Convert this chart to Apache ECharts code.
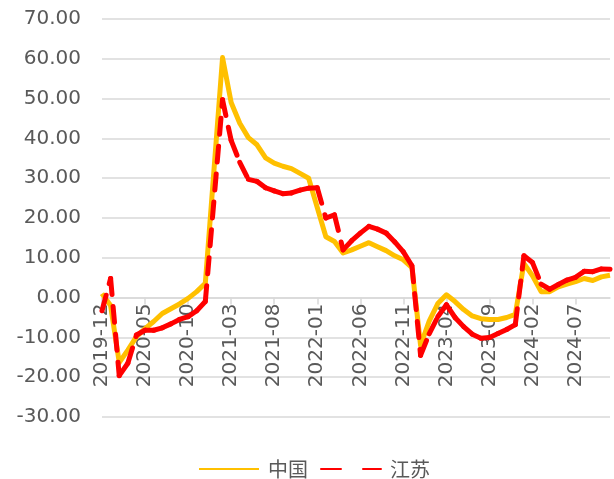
<!DOCTYPE html>
<html>
<head>
<meta charset="utf-8">
<script src="https://cdn.jsdelivr.net/npm/echarts@6/dist/echarts.min.js"></script>
<style>
  html, body { margin: 0; padding: 0; background: #fff; overflow: hidden; }
  #chart { width: 614px; height: 479px; }
</style>
</head>
<body>
<div id="chart"></div>
<script>
// 月份（1月数据缺失的地方用 null）
const months = [
  '2019-12',
  '2020-01', '2020-02', '2020-03', '2020-04', '2020-05', '2020-06',
  '2020-07', '2020-08', '2020-09', '2020-10', '2020-11', '2020-12',
  '2021-01', '2021-02', '2021-03', '2021-04', '2021-05', '2021-06',
  '2021-07', '2021-08', '2021-09', '2021-10', '2021-11', '2021-12',
  '2022-01', '2022-02', '2022-03', '2022-04', '2022-05', '2022-06',
  '2022-07', '2022-08', '2022-09', '2022-10', '2022-11', '2022-12',
  '2023-01', '2023-02', '2023-03', '2023-04', '2023-05', '2023-06',
  '2023-07', '2023-08', '2023-09', '2023-10', '2023-11', '2023-12',
  '2024-01', '2024-02', '2024-03', '2024-04', '2024-05', '2024-06',
  '2024-07', '2024-08', '2024-09', '2024-10', '2024-11'
];

const china = [
  1.0,
  -2.0, -16.3, -13.2, -9.8, -7.8, -6.0,
  -4.0, -2.8, -1.6, -0.2, 1.5, 3.6,
  null, 60.3, 49.0, 43.8, 40.2, 38.4,
  35.1, 33.8, 33.0, 32.4, 31.2, 30.0,
  null, 15.3, 14.1, 11.2, 12.0, 12.9,
  13.8, 12.8, 11.8, 10.5, 9.5, 7.5,
  -12.0, -5.9, -1.5, 0.7, -1.0, -3.0,
  -4.6, -5.3, -5.5, -5.5, -5.0, -4.2,
  8.6, 5.5, 1.5, 1.5, 2.7, 3.4,
  4.0, 4.8, 4.3, 5.2, 5.6
];

const jiangsu = [
  -3.3,
  4.8, -19.6, -16.5, -9.4, -8.2, -8.2,
  -7.6, -6.6, -5.5, -4.8, -3.3, -1.0,
  null, 49.7, 39.5, 34.0, 29.7, 29.2,
  27.6, 26.8, 26.1, 26.3, 27.0, 27.5,
  27.6, 20.0, 20.8, 12.0, 14.3, 16.2,
  17.9, 17.2, 16.2, 14.0, 11.5, 8.0,
  -14.5, -9.1, -4.8, -1.8, -5.0, -7.3,
  -9.2, -10.2, -10.0, -9.0, -8.0, -6.8,
  10.5, 8.8, 3.4, 2.1, 3.3, 4.4,
  5.1, 6.6, 6.5, 7.2, 7.1
];

const yMin = -30;
const yMax = 70;
const yStep = 10;

const labelColor = '#595959';
const gridColor = '#d9d9d9';
const yellow = '#ffc000';
const red = '#ff0000';
const numFont = 'DejaVu Sans';
const cnFont = 'Noto Sans CJK SC';

const gridTop = 19;
const gridBottom = 62;
const gridHeight = 479 - gridTop - gridBottom;
// 横轴放在 0 刻度处：从底边往上移
const xAxisOffset = -gridHeight * (0 - yMin) / (yMax - yMin);

const chart = echarts.init(document.getElementById('chart'));

// 江苏：每一段单独画虚线，虚线从每个点重新开始（和原图一样，短段看起来是实线）
function renderJiangsuSegment(params, api) {
  const i = params.dataIndex;
  if (jiangsu[i] == null) return;
  let p = i - 1;
  while (p >= 0 && jiangsu[p] == null) p--;
  if (p < 0) return;
  const a = api.coord([p, jiangsu[p]]);
  const b = api.coord([i, jiangsu[i]]);
  return {
    type: 'line',
    silent: true,
    shape: { x1: a[0], y1: a[1], x2: b[0], y2: b[1] },
    style: {
      stroke: red,
      lineWidth: 5,
      lineDash: [16, 12],
      lineCap: 'round'
    }
  };
}

const option = {
  animation: false,
  backgroundColor: '#fff',
  grid: {
    left: 102,
    right: 4,
    top: gridTop,
    bottom: gridBottom,
    containLabel: false,
    outerBoundsMode: 'none'
  },
  legend: {
    left: 193,
    top: 454,
    itemWidth: 60,
    itemHeight: 14,
    itemGap: 12,
    itemStyle: { opacity: 0 },
    textStyle: {
      color: labelColor,
      fontSize: 20,
      fontFamily: cnFont,
      padding: [0, 0, 0, 4]
    },
    data: ['中国', '江苏']
  },
  xAxis: {
    type: 'category',
    boundaryGap: false,
    data: months,
    position: 'bottom',
    offset: xAxisOffset,
    axisLine: {
      onZero: false,
      lineStyle: { color: gridColor, width: 1.5 }
    },
    axisTick: {
      show: true,
      interval: 4,
      length: 7,
      lineStyle: { color: gridColor, width: 1.5 }
    },
    axisLabel: {
      interval: 4,
      rotate: 90,
      margin: 6,
      overflow: 'none',
      color: labelColor,
      fontSize: 20,
      fontFamily: numFont
    }
  },
  yAxis: {
    type: 'value',
    min: yMin,
    max: yMax,
    interval: yStep,
    axisLine: { show: false },
    axisTick: { show: false },
    splitLine: {
      lineStyle: { color: gridColor, width: 1.5 }
    },
    axisLabel: {
      margin: 21,
      color: labelColor,
      fontSize: 20,
      fontFamily: numFont,
      formatter: v => v.toFixed(2)
    }
  },
  series: [
    {
      name: '中国',
      type: 'line',
      z: 2,
      data: china,
      connectNulls: true,
      symbol: 'none',
      lineStyle: { color: yellow, width: 5, join: 'round' },
      itemStyle: { color: yellow }
    },
    {
      // 只用于图例图标
      name: '江苏',
      type: 'line',
      data: [],
      symbol: 'none',
      lineStyle: { color: red, width: 5, type: [20, 22], cap: 'round' },
      itemStyle: { color: red }
    },
    {
      name: '江苏',
      type: 'custom',
      z: 3,
      clip: false,
      data: jiangsu.map((v, i) => [i, v]),
      encode: { x: 0, y: 1 },
      renderItem: renderJiangsuSegment,
      itemStyle: { color: red }
    }
  ]
};

chart.setOption(option);
</script>
</body>
</html>
